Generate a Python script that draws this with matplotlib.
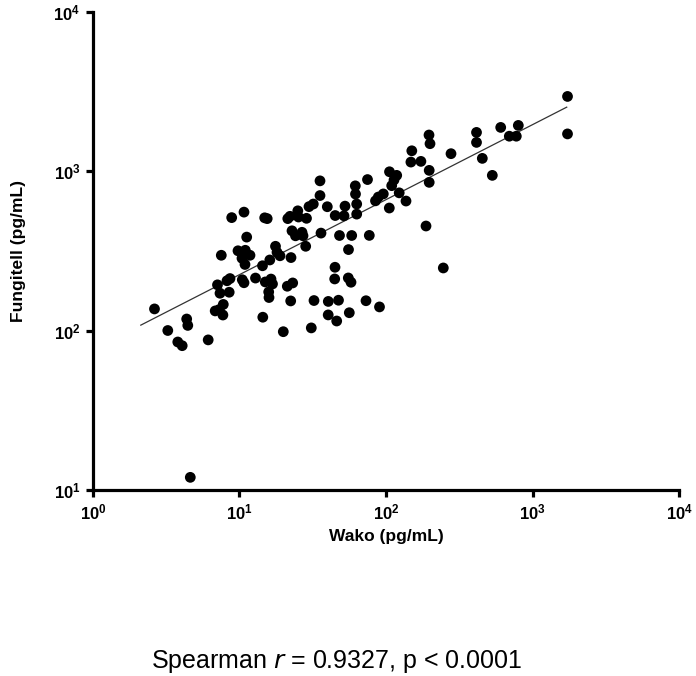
import numpy as np
import matplotlib
matplotlib.use("Agg")
import matplotlib.pyplot as plt

plt.rcParams['font.family'] = ['Liberation Sans', 'DejaVu Sans']
plt.rcParams['mathtext.default'] = 'regular'

# Data (pixel positions converted to values below)
wako_px = [154.5, 167.8, 177.8, 182.2, 186.7, 187.8, 190.3, 208.2, 215.2, 219.3,
           222.9, 223.3, 217.5, 220.0, 229.2, 227.0, 230.0, 221.3, 231.7, 244.0,
           246.7, 238.0, 245.3, 250.0, 242.0, 245.0, 242.3, 244.0, 255.5, 262.5,
           262.8, 264.7, 267.2, 265.3, 268.7, 269.0, 271.0, 272.5, 269.8, 275.5,
           277.0, 280.0, 291.0, 283.3, 287.3, 292.7, 290.7, 287.8, 290.0, 297.8,
           298.5, 306.5, 292.0, 295.5, 302.0, 303.0, 305.7, 309.0, 313.3, 320.0,
           320.0, 321.0, 327.3, 314.0, 311.3, 328.3, 328.2, 335.0, 334.7, 336.7,
           338.5, 348.5, 348.3, 351.0, 349.3, 366.0, 379.5, 335.2, 345.0, 344.0,
           356.7, 356.7, 339.5, 351.7, 369.3, 355.3, 355.5, 367.5, 375.5, 378.3,
           383.3, 389.3, 389.5, 396.7, 394.0, 391.7, 399.2, 406.0, 411.8, 410.9,
           420.9, 429.0, 430.0, 429.2, 429.2, 426.0, 443.3, 451.0, 476.5, 476.5,
           482.3, 492.3, 500.7, 518.3, 509.3, 516.3, 567.5, 567.5]
fung_px = [308.7, 330.3, 341.8, 345.5, 318.8, 325.2, 477.3, 339.7, 310.7, 309.3,
           314.8, 304.2, 284.6, 293.0, 292.0, 280.5, 278.3, 255.0, 217.3, 211.8,
           236.8, 250.5, 250.0, 255.0, 258.0, 264.2, 279.5, 282.5, 277.8, 265.5,
           317.0, 217.5, 218.3, 281.7, 291.7, 297.3, 278.8, 283.7, 259.7, 246.0,
           252.0, 255.5, 257.3, 331.5, 286.0, 282.7, 300.7, 218.3, 216.0, 210.5,
           216.7, 218.0, 230.5, 235.5, 232.0, 235.5, 246.0, 206.3, 203.7, 180.5,
           195.2, 232.8, 206.4, 300.3, 327.7, 301.2, 314.7, 267.0, 278.7, 320.8,
           300.0, 249.3, 277.7, 282.0, 312.5, 300.5, 306.7, 215.2, 205.8, 215.5,
           203.7, 213.8, 235.2, 235.2, 235.1, 185.5, 193.7, 179.2, 200.5, 196.7,
           193.6, 207.7, 171.4, 175.0, 179.6, 185.3, 192.5, 200.7, 150.4, 161.7,
           161.0, 134.6, 143.3, 170.0, 182.0, 225.7, 267.7, 153.3, 132.0, 142.0,
           158.0, 175.0, 127.0, 125.0, 135.8, 135.8, 96.0, 133.5]

# pixel -> value conversion (axis calibration)
X0_PX, X_DEC = 93.0, 146.5
Y0_PX, Y_DEC = 490.0, 159.5
wako = 10 ** ((np.array(wako_px) - X0_PX) / X_DEC)
fungitell = 10 ** (1 + (Y0_PX - np.array(fung_px)) / Y_DEC)

# regression line (log-log)
fit_slope = 0.4706
fit_intercept = 1.8813
fit_x_range = [2.12, 1712.0]

fig = plt.figure(figsize=(6.96, 6.76), dpi=100)
ax = fig.add_axes([0.1336, 0.2751, 0.842, 0.7071])
ax.set_xscale('log')
ax.set_yscale('log')
ax.set_xlim(1, 1e4)
ax.set_ylim(10, 1e4)

ax.scatter(wako, fungitell, s=60, color='black', edgecolors='none', zorder=3)
fx = np.array(fit_x_range)
fy = 10 ** (fit_intercept + fit_slope * np.log10(fx))
ax.plot(fx, fy, color='#333333', lw=0.9, zorder=2)

for s in ['top', 'right']:
    ax.spines[s].set_visible(False)
for s in ['left', 'bottom']:
    ax.spines[s].set_linewidth(2.3)
ax.minorticks_off()
ax.tick_params(axis='both', which='major', length=5, width=2.3, labelsize=12, pad=4)
ax.set_xticks([1, 10, 100, 1000, 10000])
ax.set_yticks([10, 100, 1000, 10000])
for lab in ax.get_xticklabels() + ax.get_yticklabels():
    lab.set_fontweight('bold')
plt.rcParams['mathtext.default'] = 'bf'

ax.set_xlabel('Wako (pg/mL)', fontsize=12.5, fontweight='bold', labelpad=5)
ax.set_ylabel('Fungitell (pg/mL)', fontsize=12.5, fontweight='bold', labelpad=20)

fig.text(0.483, 1 - 668 / 676, 'Spearman $\\mathit{r}$ = 0.9327, p < 0.0001',
         ha='center', va='baseline', fontsize=18)

fig.savefig('out.png', dpi=100)
